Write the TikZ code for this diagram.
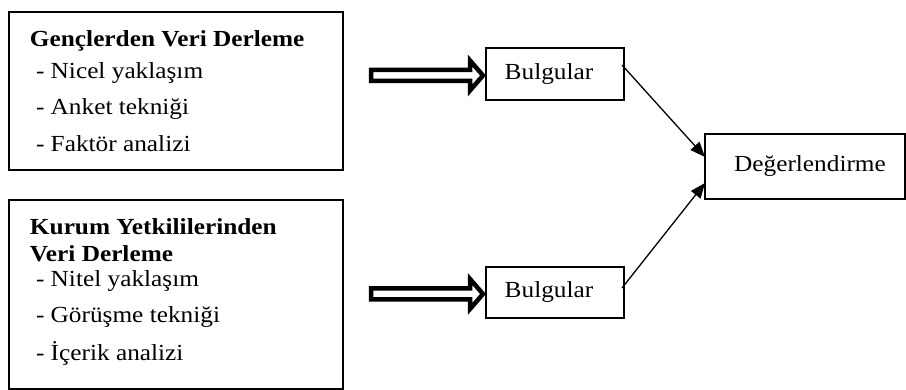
\documentclass[tikz,border=0pt]{standalone}
\usepackage{fontspec}
\setmainfont{Liberation Serif}[FakeStretch=1.1]
\usetikzlibrary{arrows.meta}
\begin{document}
\begin{tikzpicture}[x=1pt,y=-1pt,font=\fontsize{23}{27}\selectfont]
\tikzset{
  frame/.style={draw, line width=1.5pt, rectangle, inner sep=0pt, outer sep=0pt},
  txt/.style={anchor=base west, inner sep=0pt, outer sep=0pt},
  ttl/.style={txt, font=\fontsize{23}{27}\selectfont\bfseries},
  blockarrow/.style={draw, line width=4.5pt, fill=white, line join=miter, miter limit=4},
  link/.style={line width=1.3pt, -{Triangle[length=15pt,width=12pt]}},
}
\path[use as bounding box] (0,0) rectangle (906,390);
% left boxes
\node[frame, minimum width=334pt, minimum height=158pt, anchor=north west] (g) at (9,12) {};
\node[frame, minimum width=334pt, minimum height=189pt, anchor=north west] (k) at (9,200) {};
% texts of box 1
\node[ttl] (g0) at (30,47) {Gençlerden Veri Derleme};
\node[txt] (g1) at (36,79) {- Nicel yaklaşım};
\node[txt] (g2) at (36,115) {- Anket tekniği};
\node[txt] (g3) at (36,152) {- Faktör analizi};
% texts of box 2
\node[ttl] (k0) at (30,235) {Kurum Yetkililerinden};
\node[ttl] (k1) at (30,262) {Veri Derleme};
\node[txt] (k2) at (36,287) {- Nitel yaklaşım};
\node[txt] (k3) at (36,323) {- Görüşme tekniği};
\node[txt] (k4) at (36,360) {- İçerik analizi};
% right boxes
\node[frame, minimum width=138pt, minimum height=52pt] (b1) at (555,74) {\hspace*{-12pt}Bulgular};
\node[frame, minimum width=138pt, minimum height=51pt] (b2) at (555,292.5) {\hspace*{-12pt}Bulgular};
\node[frame, minimum width=200pt, minimum height=65pt] (d) at (805,166.5) {\hspace*{10pt}Değerlendirme};
% block arrows
\begin{scope}[shift={(b1.west)}]
  \draw[blockarrow] (-115,-4) -- (-16,-4) -- (-16,-13.5) -- (-3,1.5) -- (-16,16.5) -- (-16,7) -- (-115,7) -- cycle;
\end{scope}
\begin{scope}[shift={(b2.west)}]
  \draw[blockarrow] (-115,-4) -- (-16,-4) -- (-16,-13.5) -- (-3,1.5) -- (-16,16.5) -- (-16,7) -- (-115,7) -- cycle;
\end{scope}
% links
\draw[link] ([xshift=-2pt,yshift=-17pt]b1.north east) -- ([yshift=-23pt]d.north west);
\draw[link] ([xshift=-2pt,yshift=-21pt]b2.north east) -- ([yshift=16pt]d.south west);
\end{tikzpicture}
\end{document}
